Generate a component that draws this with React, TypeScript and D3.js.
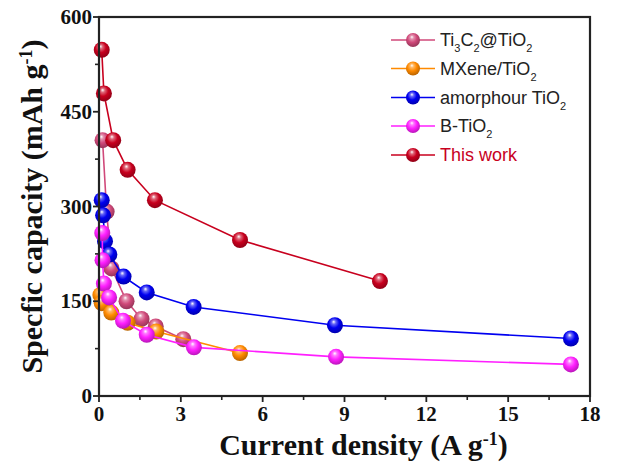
import React from "react";
import * as d3 from "d3";

// current density (A g-1) and specific capacity (mAh g-1)
const ti3c2X = [0.13, 0.28, 0.46, 1.01, 1.56, 2.08, 3.09];
const ti3c2Y = [405, 292, 202, 150, 122, 110, 90];
const mxeneX = [0.05, 0.1, 0.45, 1.05, 2.1, 5.17];
const mxeneY = [160, 147, 132, 116, 102, 68];
const amorX = [0.1, 0.15, 0.22, 0.38, 0.9, 1.75, 3.47, 8.65, 17.3];
const amorY = [310, 286, 245, 224, 189, 164, 141, 112, 91];
const bX = [0.12, 0.13, 0.18, 0.37, 0.88, 1.75, 3.48, 8.69, 17.3];
const bY = [258, 215, 178, 156, 119, 97, 77, 62, 50];
const workX = [0.1, 0.18, 0.52, 1.05, 2.05, 5.17, 10.3];
const workY = [548, 479, 405, 358, 310, 247, 182];

const xTicks = [0, 3, 6, 9, 12, 15, 18];
const yTicks = [0, 150, 300, 450, 600];

const series = [
  { id: "ti3c2", xs: ti3c2X, ys: ti3c2Y, color: "#d0497a" },
  { id: "mxene", xs: mxeneX, ys: mxeneY, color: "#ff8a00" },
  { id: "amor", xs: amorX, ys: amorY, color: "#0000f0" },
  { id: "btio2", xs: bX, ys: bY, color: "#ff1fff" },
  { id: "work", xs: workX, ys: workY, color: "#c8001e" },
];

const W = 617;
const H = 471;
const m = { left: 99, right: 27, top: 17, bottom: 75 };

export default function App() {
  const x = d3.scaleLinear().domain([0, 18]).range([m.left, W - m.right]);
  const y = d3.scaleLinear().domain([0, 600]).range([H - m.bottom, m.top]);
  const line = d3
    .line<[number, number]>()
    .x((d) => x(d[0]))
    .y((d) => y(d[1]));

  const minorX = d3.range(1.5, 18, 3);
  const minorY = d3.range(75, 600, 150);
  const serif = "'Liberation Serif', 'Times New Roman', serif";
  const sans = "'Liberation Sans', Arial, sans-serif";
  const r = 8;

  const sub = (t: string) => <tspan baselineShift="sub" fontSize="11">{t}</tspan>;
  const legend = [
    { s: series[0], label: <>Ti{sub("3")}C{sub("2")}@TiO{sub("2")}</>, fill: "#222" },
    { s: series[1], label: <>MXene/TiO{sub("2")}</>, fill: "#222" },
    { s: series[2], label: <>amorphour TiO{sub("2")}</>, fill: "#222" },
    { s: series[3], label: <>B-TiO{sub("2")}</>, fill: "#222" },
    { s: series[4], label: <>This work</>, fill: "#c8001e" },
  ];
  const legendY = [40, 68.5, 97.5, 126, 155];

  return (
    <svg width={W} height={H} style={{ position: "absolute", left: 0, top: 0 }}>
      <defs>
        {series.map((s) => (
          <radialGradient key={s.id} id={"g-" + s.id} cx="45%" cy="40%" r="60%" fx="42%" fy="28%">
            <stop offset="0%" stopColor="#ffffff" />
            <stop offset="22%" stopColor={d3.interpolateRgb("#ffffff", s.color)(0.6)} />
            <stop offset="55%" stopColor={s.color} />
            <stop offset="100%" stopColor={d3.color(s.color)!.darker(0.9).toString()} />
          </radialGradient>
        ))}
      </defs>
      <rect width={W} height={H} fill="#fff" />

      {series.map((s) => {
        const pts = s.xs.map((v, i) => [v, s.ys[i]] as [number, number]);
        return (
          <g key={s.id}>
            <path d={line(pts) ?? ""} fill="none" stroke={s.color} strokeWidth={1.6} />
            {pts.map((p, i) => (
              <circle key={i} cx={x(p[0])} cy={y(p[1])} r={r} fill={`url(#g-${s.id})`} />
            ))}
          </g>
        );
      })}

      {/* frame */}
      <rect x={m.left} y={m.top} width={W - m.left - m.right} height={H - m.top - m.bottom} fill="none" stroke="#222" strokeWidth={2.2} />

      {xTicks.map((t) => (
        <g key={t}>
          <line x1={x(t)} x2={x(t)} y1={y(0)} y2={y(0) + 6} stroke="#222" strokeWidth={1.8} />
          <text x={x(t)} y={y(0) + 25} textAnchor="middle" fontFamily={serif} fontWeight="bold" fontSize={21} fill="#111">{t}</text>
        </g>
      ))}
      {minorX.map((t) => (
        <line key={t} x1={x(t)} x2={x(t)} y1={y(0)} y2={y(0) + 4} stroke="#222" strokeWidth={1.6} />
      ))}
      {yTicks.map((t) => (
        <g key={t}>
          <line x1={m.left - 6} x2={m.left} y1={y(t)} y2={y(t)} stroke="#222" strokeWidth={1.8} />
          <text x={m.left - 7} y={y(t) + 7} textAnchor="end" fontFamily={serif} fontWeight="bold" fontSize={21} fill="#111">{t}</text>
        </g>
      ))}
      {minorY.map((t) => (
        <line key={t} x1={m.left - 4} x2={m.left} y1={y(t)} y2={y(t)} stroke="#222" strokeWidth={1.6} />
      ))}

      <text x={(x(0) + x(18)) / 2 + 19} y={455} textAnchor="middle" fontFamily={serif} fontWeight="bold" fontSize={30} fill="#111">
        Current density (A g<tspan baselineShift="super" fontSize="18">-1</tspan>)
      </text>
      <text transform={`translate(42,${(y(0) + y(600)) / 2}) rotate(-90)`} textAnchor="middle" fontFamily={serif} fontWeight="bold" fontSize={30} fill="#111">
        Specfic capacity (mAh g<tspan baselineShift="super" fontSize="18">-1</tspan>)
      </text>

      {legend.map((l, i) => (
        <g key={l.s.id} transform={`translate(0,${legendY[i]})`}>
          <line x1={391} x2={435} y1={0} y2={0} stroke={l.s.color} strokeWidth={1.6} />
          <circle cx={413} cy={0} r={7} fill={`url(#g-${l.s.id})`} />
          <text x={440} y={6} fontFamily={sans} fontSize={18} fill={l.fill}>{l.label}</text>
        </g>
      ))}
    </svg>
  );
}
